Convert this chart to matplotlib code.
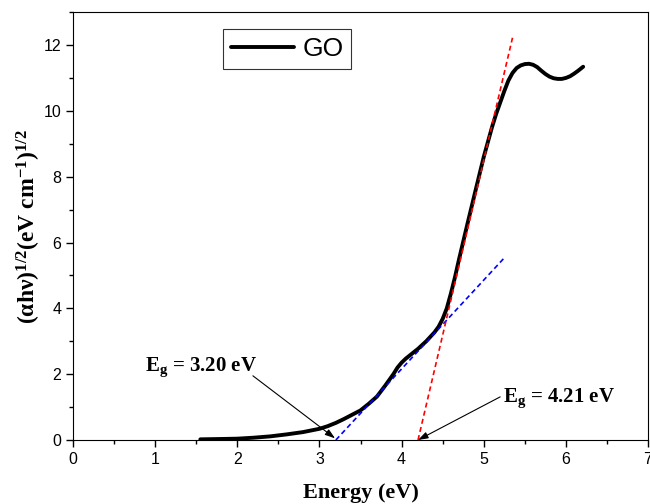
import numpy as np
import matplotlib
matplotlib.use("Agg")
import matplotlib.pyplot as plt
from matplotlib.ticker import MultipleLocator

# data
energy = [1.55, 1.8, 2.0, 2.2, 2.4, 2.6, 2.8, 3.0, 3.1, 3.2, 3.3, 3.4, 3.5,
          3.6, 3.7, 3.8, 3.9, 3.95, 4.0, 4.05, 4.1, 4.2, 4.3, 4.4, 4.45, 4.5,
          4.55, 4.6, 4.65, 4.7, 4.8, 4.9, 5.0, 5.1, 5.15, 5.2, 5.25, 5.3, 5.35,
          5.4, 5.45, 5.5, 5.55, 5.6, 5.65, 5.7, 5.75, 5.8, 5.85, 5.9, 5.95,
          6.0, 6.05, 6.1, 6.15, 6.21]
tauc = [0.02, 0.03, 0.04, 0.07, 0.11, 0.17, 0.24, 0.34, 0.42, 0.52, 0.64,
        0.77, 0.90, 1.10, 1.32, 1.65, 2.00, 2.20, 2.35, 2.47, 2.57, 2.77,
        3.00, 3.27, 3.44, 3.68, 4.00, 4.45, 4.95, 5.50, 6.55, 7.58, 8.60,
        9.50, 9.90, 10.25, 10.60, 10.92, 11.15, 11.30, 11.38, 11.42, 11.43,
        11.40, 11.33, 11.22, 11.12, 11.04, 10.99, 10.97, 10.97, 11.00, 11.05,
        11.13, 11.22, 11.34]

fit_low_x = [3.20, 5.26]
fit_low_y = [0.0, 5.56]
fit_high_x = [4.20, 5.35]
fit_high_y = [0.0, 12.22]

plt.rcParams['mathtext.fontset'] = 'custom'
plt.rcParams['mathtext.rm'] = 'Liberation Serif:bold'
plt.rcParams['mathtext.it'] = 'Liberation Serif:bold'
plt.rcParams['mathtext.bf'] = 'Liberation Serif:bold'

fig = plt.figure(figsize=(6.5, 5.04), dpi=100)
ax = fig.add_axes([0.1123, 0.127, 0.8847, 0.849])

ax.plot(energy, tauc, color="black", lw=2.8, label="GO", zorder=3,
        solid_joinstyle="round", solid_capstyle="round")
ax.plot(fit_low_x, fit_low_y, color="blue", ls=(0, (3, 2)), lw=1.2, zorder=4)
ax.plot(fit_high_x, fit_high_y, color="red", ls=(0, (3, 2)), lw=1.2, zorder=4)

ax.set_xlim(0, 7)
ax.set_ylim(0, 13)
ax.xaxis.set_major_locator(MultipleLocator(1))
ax.xaxis.set_minor_locator(MultipleLocator(0.5))
ax.yaxis.set_major_locator(MultipleLocator(2))
ax.yaxis.set_minor_locator(MultipleLocator(1))
ax.tick_params(which="major", direction="out", length=5, width=1)
ax.tick_params(which="minor", direction="out", length=3, width=1)
for lab in ax.get_xticklabels() + ax.get_yticklabels():
    lab.set_fontfamily("Liberation Sans")
    lab.set_fontsize(11.5)

ax.set_xlabel("Energy (eV)", family="Liberation Serif", fontweight="bold",
              fontsize=16, labelpad=12)
ax.set_ylabel(r"(αhν)$^{1/2}$(eV cm$^{-1}$)$^{1/2}$", family="Liberation Serif",
              fontweight="bold", fontsize=17, labelpad=0)

# band gap labels with arrows
ax.text(0.88, 2.1, r"E$_{g}$ = 3.20 eV", family="Liberation Serif",
        fontweight="bold", fontsize=15, va="baseline", ha="left")
ax.annotate("", xy=(3.19, 0.05), xytext=(2.19, 1.95),
            arrowprops=dict(arrowstyle="-|>,head_length=0.6,head_width=0.2",
                            color="black", lw=0.8, shrinkA=0, shrinkB=0))
ax.text(5.23, 1.16, r"E$_{g}$ = 4.21 eV", family="Liberation Serif",
        fontweight="bold", fontsize=15, va="baseline", ha="left")
ax.annotate("", xy=(4.2, 0.0), xytext=(5.2, 1.31),
            arrowprops=dict(arrowstyle="-|>,head_length=0.6,head_width=0.2",
                            color="black", lw=0.8, shrinkA=0, shrinkB=0))

leg = ax.legend(loc="upper left", bbox_to_anchor=(0.261, 0.96), borderaxespad=0,
                fancybox=False, edgecolor="black",
                prop={"family": "Liberation Sans", "size": 19},
                handlelength=2.4, borderpad=0.3, handletextpad=0.3)
leg.get_frame().set_linewidth(0.8)

plt.savefig("out.png", dpi=100)
